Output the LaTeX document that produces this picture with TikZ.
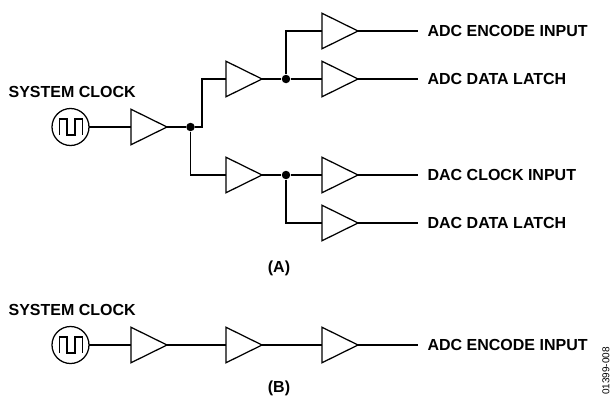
\documentclass[tikz,border=0pt]{standalone}
\usepackage{fontspec}
\setmainfont{Liberation Sans}
\usetikzlibrary{shapes.geometric}
\tikzset{
    buf/.style={draw, isosceles triangle, isosceles triangle stretches, shape border rotate=0,
        minimum width=35.5pt, minimum height=36pt, inner sep=0pt, outer sep=0pt},
    clk/.style={draw, circle, minimum size=37pt, inner sep=0pt, outer sep=0pt},
    dotnode/.style={fill, circle, minimum size=8.5pt, inner sep=0pt},
    lab/.style={font=\fontsize{16}{17}\selectfont\bfseries, inner sep=0pt},
}
\begin{document}
\begin{tikzpicture}[x=1pt, y=-1pt, line width=1.25pt]
    \useasboundingbox (0,0) rectangle (610,396);
    % (A)
    \node[lab, anchor=west] (sysa) at (8,92) {SYSTEM CLOCK};
    \node[clk] (clka) at (70.5,127) {};
    \draw[line width=1.1pt] (59.5,135) -- (59.5,119) -- (67,119) -- (67,135) -- (75,135) -- (75,119) -- (82.5,119) -- (82.5,135);
    \node[buf, anchor=lower side] (b0) at (131,127) {};
    \node[dotnode] (j0) at (190.5,127) {};
    \node[buf, anchor=lower side] (up) at (226,79) {};
    \node[buf, anchor=lower side] (dn) at (226,175) {};
    \node[dotnode] (j1) at (286,79) {};
    \node[dotnode] (j2) at (286,175) {};
    \node[buf, anchor=lower side] (b1) at (322,31) {};
    \node[buf, anchor=lower side] (b2) at (322,79) {};
    \node[buf, anchor=lower side] (b3) at (322,175) {};
    \node[buf, anchor=lower side] (b4) at (322,223) {};
    \coordinate (t) at (202,127);
    \coordinate (o1) at (418,31);
    \coordinate (o2) at (418,79);
    \coordinate (o3) at (418,175);
    \coordinate (o4) at (418,223);
    \node[lab, anchor=west] (l1) at (427,31) {ADC ENCODE INPUT};
    \node[lab, anchor=west] (l2) at (427,79) {ADC DATA LATCH};
    \node[lab, anchor=west] (l3) at (427,175) {DAC CLOCK INPUT};
    \node[lab, anchor=west] (l4) at (427,223) {DAC DATA LATCH};
    \node[lab] (capa) at (279,268) {(A)};
    \draw (clka) -- (b0.lower side);
    \draw (b0.apex) -- (j0);
    \draw (j0) -- (t) |- (up.lower side);
    \draw (j0) |- (dn.lower side);
    \draw (up.apex) -- (j1);
    \draw (dn.apex) -- (j2);
    \draw (j1) -- (b2.lower side);
    \draw (j1) |- (b1.lower side);
    \draw (j2) -- (b3.lower side);
    \draw (j2) |- (b4.lower side);
    \draw (b1.apex) -- (o1);
    \draw (b2.apex) -- (o2);
    \draw (b3.apex) -- (o3);
    \draw (b4.apex) -- (o4);
    % (B)
    \node[lab, anchor=west] (sysb) at (8,310) {SYSTEM CLOCK};
    \node[clk] (clkb) at (70.5,345) {};
    \draw[line width=1.1pt] (59.5,353) -- (59.5,337) -- (67,337) -- (67,353) -- (75,353) -- (75,337) -- (82.5,337) -- (82.5,353);
    \node[buf, anchor=lower side] (c1) at (131,345) {};
    \node[buf, anchor=lower side] (c2) at (226,345) {};
    \node[buf, anchor=lower side] (c3) at (322,345) {};
    \coordinate (o5) at (418,345);
    \node[lab, anchor=west] (l5) at (427,345) {ADC ENCODE INPUT};
    \node[lab] (capb) at (279,388) {(B)};
    \draw (clkb) -- (c1.lower side);
    \draw (c1.apex) -- (c2.lower side);
    \draw (c2.apex) -- (c3.lower side);
    \draw (c3.apex) -- (o5);
    \node[font=\fontsize{10}{11}\selectfont, inner sep=0pt, rotate=90, anchor=west] (code) at (606,395.5) {01399-008};
\end{tikzpicture}
\end{document}
